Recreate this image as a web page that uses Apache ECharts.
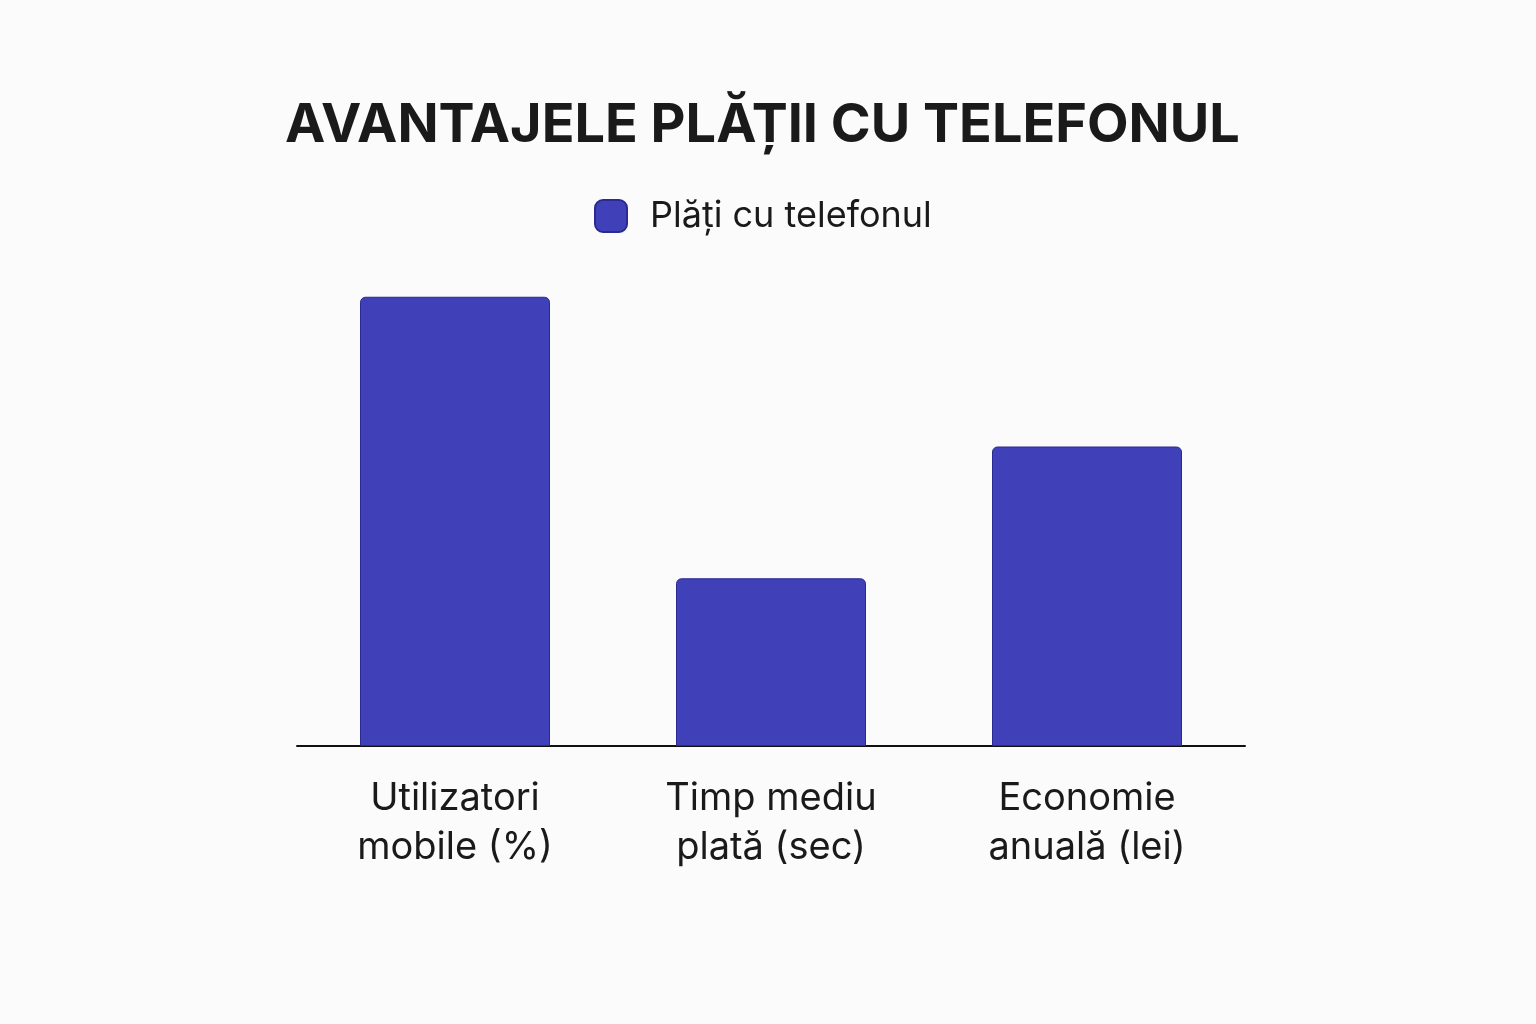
<!DOCTYPE html>
<html><head><meta charset="utf-8">
<script src="https://cdn.jsdelivr.net/npm/echarts@6/dist/echarts.min.js"></script>
<style>html,body{margin:0;padding:0;background:#fbfbfb;}#c{width:1536px;height:1024px;}</style>
</head><body><div id="c"></div>
<script>
const categories = ['Utilizatori\nmobile (%)', 'Timp mediu\nplată (sec)', 'Economie\nanuală (lei)'];
const values = [75, 28, 50];
const seriesName = 'Plăți cu telefonul';
const titleText = 'AVANTAJELE PLĂȚII CU TELEFONUL';

const chart = echarts.init(document.getElementById('c'));
chart.setOption({
  backgroundColor: '#fbfbfb',
  textStyle: { fontFamily: 'Inter' },
  title: {
    text: titleText, left: 280, top: 94,
    textStyle: { fontFamily: 'Inter', fontWeight: 'bold', fontSize: 54, color: '#1a1a1a' }
  },
  legend: {
    data: [seriesName], top: 193, left: 589,
    itemWidth: 32, itemHeight: 32, itemGap: 20,
    textStyle: { fontFamily: 'Inter', fontSize: 36, color: '#1a1a1a', padding: [0,0,0,18] }
  },
  grid: { left: 297, right: 291, top: 147, bottom: 278, containLabel: false },
  xAxis: {
    type: 'category', data: categories,
    axisLine: { lineStyle: { color: '#111', width: 2 } },
    axisTick: { show: false },
    axisLabel: { fontFamily: 'Inter', fontSize: 38, color: '#1a1a1a', lineHeight: 49, margin: 28 }
  },
  yAxis: { type: 'value', min: 0, max: 100, show: false, splitLine: { show: false } },
  series: [{
    name: seriesName, type: 'bar', data: values, barWidth: 190,
    itemStyle: { color: '#4040b8', borderColor: '#2a2a90', borderWidth: 1, borderRadius: [5,5,0,0] }
  }]
});
</script></body></html>
